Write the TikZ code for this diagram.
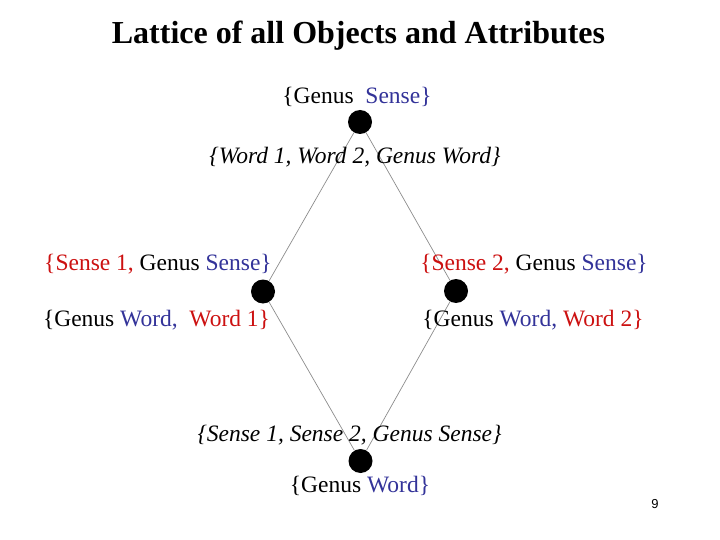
\documentclass[tikz,border=0pt]{standalone}
\usepackage{fontspec}
\setmainfont{Liberation Serif}
\newfontfamily\numfont{Liberation Sans}
\definecolor{cred}{RGB}{204,17,17}
\definecolor{cblue}{RGB}{51,51,153}
\definecolor{cline}{RGB}{140,140,140}
\begin{document}
\begin{tikzpicture}[x=1pt,y=-1pt,
  dot/.style={circle,fill=black,minimum size=24pt,inner sep=0pt},
  lbl/.style={anchor=base,inner sep=0pt,font=\fontsize{23.5}{26}\selectfont},
  edge/.style={draw=cline,line width=0.7pt}]
\useasboundingbox (0,0) rectangle (720,540);
\node[anchor=base,inner sep=0pt,font=\fontsize{32}{36}\selectfont\bfseries] (title) at (358.5,44) {Lattice of all Objects and Attributes};
\node[dot] (top) at (360,122) {};
\node[dot] (left) at (263,291.5) {};
\node[dot] (right) at (456,291) {};
\node[dot] (bot) at (360.5,461) {};
\draw[edge] (top) -- (left);
\draw[edge] (top) -- (right);
\draw[edge] (left) -- (bot);
\draw[edge] (right) -- (bot);
\node[lbl] (tA) at (357,104) {\{Genus\ \ \textcolor{cblue}{Sense\}}};
\node[lbl,font=\fontsize{23.5}{26}\selectfont\itshape] (tO) at (355,164) {\{Word 1, Word 2, Genus Word\}};
\node[lbl] (lA) at (158,270) {\textcolor{cred}{\{Sense 1,} Genus \textcolor{cblue}{Sense\}}};
\node[lbl] (lO) at (156.5,326) {\{Genus \textcolor{cblue}{Word,}\ \ \textcolor{cred}{Word 1\}}};
\node[lbl] (rA) at (534,270) {\textcolor{cred}{\{Sense 2,} Genus \textcolor{cblue}{Sense\}}};
\node[lbl] (rO) at (533,326) {\{Genus \textcolor{cblue}{Word,} \textcolor{cred}{Word 2\}}};
\node[lbl,font=\fontsize{23.5}{26}\selectfont\itshape] (bA) at (349.5,441) {\{Sense 1, Sense 2, Genus Sense\}};
\node[lbl] (bO) at (360,492) {\{Genus \textcolor{cblue}{Word\}}};
\node[anchor=base,inner sep=0pt,font=\numfont\fontsize{13}{15}\selectfont] (pg) at (655,508) {9};
\end{tikzpicture}
\end{document}
